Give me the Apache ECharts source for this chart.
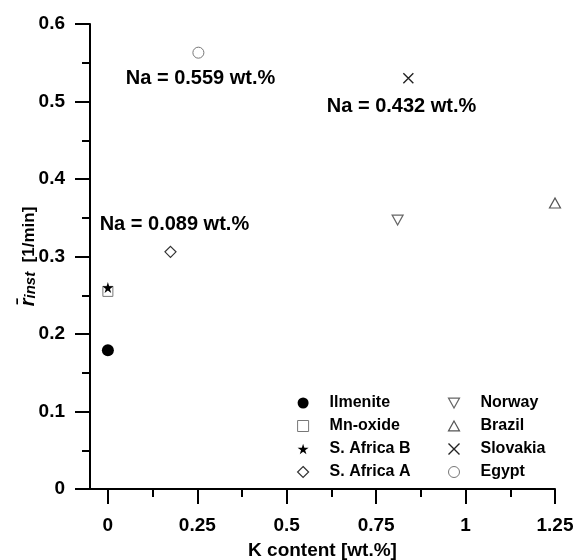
<!DOCTYPE html>
<html><head><meta charset="utf-8">
<script src="https://cdn.jsdelivr.net/npm/echarts@6/dist/echarts.min.js"></script>
<style>html,body{margin:0;padding:0;background:#fff}#c{width:579px;height:560px}</style>
</head><body><div id="c"></div>
<script>
// ---- data ----
var seriesNames = ['Ilmenite','Mn-oxide','S. Africa B','S. Africa A','Norway','Brazil','Slovakia','Egypt'];
var kContent    = [0, 0, 0, 0.175, 0.81, 1.25, 0.84, 0.253];
var rInst       = [0.179, 0.255, 0.26, 0.306, 0.347, 0.369, 0.530, 0.563];
var xTicks      = [0, 0.25, 0.5, 0.75, 1, 1.25];
var xMinorTicks = [0.125, 0.375, 0.625, 0.875, 1.125];
var annTexts    = ['Na = 0.559 wt.%', 'Na = 0.432 wt.%', 'Na = 0.089 wt.%'];
var annX        = [0.05, 0.612, -0.023];
var annY        = [0.530, 0.493, 0.341];

var FONT = 'Liberation Sans, Arial, sans-serif';
var STAR = 'path://M50,0 L61,35 L98,35 L68,57 L79,91 L50,70 L21,91 L32,57 L2,35 L39,35 Z';
var CROSS = 'path://M0,0 L10,10 M10,0 L0,10';
var TRI_DOWN = 'path://M0,0 L10,0 L5,9 Z';
var TRI_UP = 'path://M5,0 L10,9 L0,9 Z';
var styles = [
  {symbol:'circle', size:12, item:{color:'#000', borderColor:'#000', borderWidth:0, opacity:1}},
  {symbol:'rect', size:10, item:{color:'#fff', borderColor:'#777', borderWidth:1, opacity:1}},
  {symbol:STAR, size:11, item:{color:'#000', borderColor:'#000', borderWidth:0, opacity:1}},
  {symbol:'diamond', size:11, item:{color:'#fff', borderColor:'#333', borderWidth:1.2, opacity:1}},
  {symbol:TRI_DOWN, size:[11,10], item:{color:'#fff', borderColor:'#666', borderWidth:1.2, opacity:1}},
  {symbol:TRI_UP, size:[11,10], item:{color:'#fff', borderColor:'#555', borderWidth:1.2, opacity:1}},
  {symbol:CROSS, size:10, item:{color:'none', borderColor:'#222', borderWidth:1.4, opacity:1}},
  {symbol:'circle', size:11, item:{color:'#fff', borderColor:'#777', borderWidth:1, opacity:1}}
];

var series = seriesNames.map(function(n,i){
  var s = styles[i];
  return {
    name:n, type:'scatter', xAxisIndex:0, yAxisIndex:0,
    symbol:s.symbol, symbolSize:s.size,
    itemStyle:s.item, z: i===2 ? 5 : 3,
    data:[[kContent[i], rInst[i]]]
  };
});
series.push({
  type:'scatter', xAxisIndex:0, yAxisIndex:0, symbolSize:0, silent:true,
  itemStyle:{opacity:1},
  data: annTexts.map(function(t,i){ return {value:[annX[i], annY[i]], name:t}; }),
  label:{show:true, position:'right', distance:0, formatter:function(p){return p.name;},
    color:'#000', opacity:1, textBorderWidth:0, fontFamily:FONT, fontWeight:'bold', fontSize:20}
});

var legendText = {color:'#000', fontFamily:FONT, fontWeight:'bold', fontSize:16, lineHeight:16, padding:[0,0,0,16]};
function legendData(names, idx0){
  return names.map(function(n,k){
    var s = styles[idx0+k];
    return {name:n, icon: s.symbol, itemStyle: s.item};
  });
}

var chart = echarts.init(document.getElementById('c'), null, {renderer:'canvas'});
chart.setOption({
  backgroundColor:'#fff',
  animation:false,
  grid:{left:90, right:24, top:24, bottom:71, containLabel:false, outerBoundsMode:'none'},
  legend:[
    {data:legendData(seriesNames.slice(0,4),0), orient:'vertical', left:292, top:390, itemWidth:11, itemHeight:11, itemGap:7, textStyle:legendText, selectedMode:false},
    {data:legendData(seriesNames.slice(4),4), orient:'vertical', left:441, top:390, itemWidth:11, itemHeight:11, itemGap:7, textStyle:legendText, selectedMode:false}
  ],
  xAxis:[{
    type:'value', min:-0.05, max:1.25,
    name:'K content [wt.%]', nameLocation:'middle', nameGap:52, nameMoveOverlap:false,
    nameTextStyle:{color:'#000', fontFamily:FONT, fontWeight:'bold', fontSize:19},
    axisLine:{show:true, onZero:false, lineStyle:{color:'#000', width:2}},
    axisTick:{show:true, inside:false, length:15, lineStyle:{color:'#000', width:2}, customValues:xTicks},
    axisLabel:{show:true, margin:27, color:'#000', fontFamily:FONT, fontWeight:'bold', fontSize:19, customValues:xTicks,
      formatter:function(v){ return String(v); }},
    splitLine:{show:false}
  },{
    type:'value', min:-0.05, max:1.25, position:'bottom',
    axisLine:{show:false, onZero:false},
    axisTick:{show:true, inside:false, length:8, lineStyle:{color:'#000', width:2}, customValues:xMinorTicks},
    axisLabel:{show:false}, splitLine:{show:false}
  }],
  yAxis:[{
    type:'value', min:0, max:0.6, interval:0.1,
    name:'{r|r\u0304}{s|inst}{u|  [1/min]}', nameLocation:'middle', nameGap:52, nameRotate:90, nameMoveOverlap:false,
    nameTextStyle:{color:'#000', fontFamily:FONT, rich:{
      r:{fontSize:20, fontStyle:'italic', fontWeight:'bold', fontFamily:FONT, color:'#000', lineHeight:24, verticalAlign:'bottom'},
      s:{fontSize:15, fontStyle:'italic', fontWeight:'bold', fontFamily:FONT, color:'#000', lineHeight:24, verticalAlign:'bottom', padding:[6,0,0,0]},
      u:{fontSize:17, fontWeight:'bold', fontFamily:FONT, color:'#000', lineHeight:24, verticalAlign:'bottom'}
    }},
    axisLine:{show:true, onZero:false, lineStyle:{color:'#000', width:2}},
    axisTick:{show:true, inside:false, length:15, lineStyle:{color:'#000', width:2}},
    minorTick:{show:true, splitNumber:2, length:8, lineStyle:{color:'#000', width:2}},
    axisLabel:{margin:25, color:'#000', fontFamily:FONT, fontWeight:'bold', fontSize:19,
      formatter:function(v){ return String(Math.round(v*10)/10); }},
    splitLine:{show:false}
  }],
  series:series
});
</script>
</body></html>
